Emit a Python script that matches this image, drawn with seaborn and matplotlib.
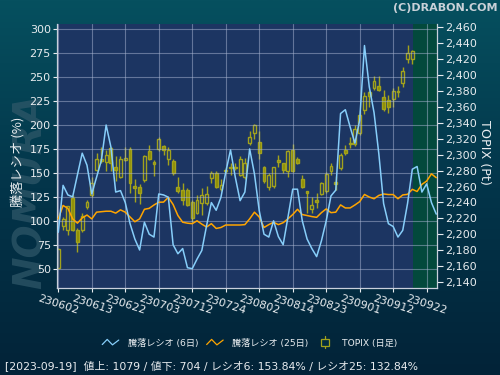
import numpy as np
import pandas as pd
import matplotlib
matplotlib.use("Agg")
import matplotlib.pyplot as plt
import seaborn as sns
from matplotlib.legend_handler import HandlerBase
from matplotlib.lines import Line2D
from matplotlib.patches import Rectangle
from matplotlib.colors import LinearSegmentedColormap

# ---------------- data ----------------
tick_labels = ["230602", "230613", "230622", "230703", "230712", "230724",
               "230802", "230814", "230823", "230901", "230912", "230922"]

ratio6 = [88, 137, 127, 125, 148, 170.6, 158, 128, 145.5, 163,
          200, 177, 130, 131.5, 119, 97, 81, 69.5, 98.5, 86,
          83, 128, 127, 124.6, 75, 65.6, 71, 51, 50, 60,
          69, 95, 119, 111, 124.6, 150.7, 174, 145.5, 121, 130,
          175, 149, 110.6, 86, 83, 100, 83.5, 75, 103.6, 133,
          133, 100, 81, 71, 62.6, 79, 100, 126, 132, 212,
          216, 198, 181, 205, 283, 240, 213, 170, 118, 97,
          94, 83, 90, 118, 153.84, 156.7, 130, 138.6, 119, 107]

ratio25 = [102, 116, 113, 102, 97.5, 103, 106, 102, 109, 109.5,
           110, 110, 108, 111.4, 109, 104, 99, 102, 112, 113,
           116.5, 119.4, 119.5, 124.5, 117, 105.5, 98.5, 97.5, 97, 100,
           96.5, 93.5, 97, 92, 93, 95.6, 95.6, 95.6, 95.6, 96,
           102, 109, 104, 93, 96, 98.5, 96, 98, 102, 106.5,
           112, 106.5, 105.5, 104.4, 103.6, 108.5, 112.4, 108.5, 109, 116.6,
           113.4, 113.4, 116.5, 120, 127.5, 124.8, 123, 126.5, 128, 127.4,
           127.4, 123, 127, 127.6, 132.84, 130.6, 138, 141.5, 149, 145]

topix_open = [2158, 2210, 2205, 2245, 2206, 2205, 2234, 2249, 2281, 2294,
              2291, 2308, 2284, 2272, 2293, 2307, 2261, 2259, 2268, 2304,
              2291, 2307, 2311, 2294, 2292, 2260, 2256, 2256, 2241, 2227,
              2239, 2239, 2271, 2277, 2257, 2281, 2285, 2283, 2275, 2272,
              2315, 2327, 2316, 2284, 2260, 2261, 2293, 2289, 2279, 2306,
              2294, 2269, 2254, 2232, 2243, 2251, 2254, 2279, 2266, 2283,
              2306, 2315, 2313, 2327, 2356, 2378, 2383, 2386, 2372, 2368,
              2370, 2380, 2389, 2419, 2420]
topix_high = [2183, 2222, 2236, 2249, 2208, 2227, 2243, 2272, 2302, 2310,
              2306, 2310, 2298, 2298, 2310, 2310, 2269, 2263, 2300, 2312,
              2293, 2322, 2312, 2310, 2295, 2272, 2264, 2258, 2243, 2249,
              2258, 2261, 2279, 2279, 2269, 2285, 2289, 2289, 2298, 2296,
              2329, 2338, 2329, 2286, 2277, 2285, 2299, 2290, 2306, 2313,
              2297, 2274, 2255, 2247, 2252, 2266, 2278, 2290, 2273, 2302,
              2312, 2322, 2337, 2354, 2378, 2380, 2398, 2398, 2381, 2375,
              2383, 2386, 2410, 2437, 2431]
topix_low = [2157, 2205, 2199, 2204, 2178, 2203, 2232, 2247, 2279, 2290,
             2279, 2279, 2267, 2271, 2292, 2252, 2240, 2238, 2266, 2293,
             2273, 2305, 2299, 2287, 2275, 2252, 2237, 2235, 2216, 2225,
             2224, 2237, 2264, 2258, 2255, 2277, 2275, 2281, 2273, 2270,
             2312, 2320, 2295, 2264, 2256, 2258, 2285, 2277, 2272, 2278,
             2288, 2258, 2227, 2227, 2233, 2249, 2252, 2274, 2256, 2281,
             2299, 2308, 2311, 2325, 2351, 2360, 2381, 2379, 2354, 2352,
             2359, 2372, 2385, 2414, 2413]
topix_close = [2182, 2219, 2235, 2206, 2191, 2223, 2240, 2264, 2294, 2292,
               2299, 2290, 2281, 2294, 2296, 2264, 2258, 2252, 2298, 2295,
               2288, 2320, 2306, 2306, 2277, 2254, 2243, 2237, 2221, 2243,
               2250, 2251, 2277, 2260, 2262, 2279, 2283, 2285, 2294, 2290,
               2322, 2337, 2302, 2267, 2274, 2284, 2291, 2281, 2304, 2280,
               2289, 2260, 2252, 2237, 2240, 2265, 2276, 2286, 2263, 2299,
               2302, 2313, 2332, 2350, 2373, 2373, 2392, 2381, 2357, 2359,
               2380, 2378, 2405, 2427, 2430]

status = "[2023-09-19]  値上: 1079 / 値下: 704 / レシオ6: 153.84% / レシオ25: 132.84%"
legend_labels = ["騰落レシオ (6日)", "騰落レシオ (25日)", "TOPIX (日足)"]

# ---------------- style ----------------
sns.set_style("ticks")
plt.rcParams["font.family"] = ["DejaVu Sans", "Noto Sans CJK JP"]

C_BLUE = "#87cefa"
C_ORANGE = "#ffa500"
C_CANDLE_EDGE = "#a2a21c"
C_CANDLE_FILL = "#8e8e04"
C_PLOT = "#1c3562"
C_GREEN = "#03493c"
C_TEXT = "#e8ecef"
C_GRID = "#aab6d2"

fig = plt.figure(figsize=(5, 3.75), dpi=100)
fig.patch.set_facecolor("#022c40")

# gradient background
bg = fig.add_axes([0, 0, 1, 1], zorder=-10)
grad = np.linspace(0, 1, 256).reshape(-1, 1)
cmap_bg = LinearSegmentedColormap.from_list("bg", ["#06505f", "#03354a", "#022338"])
bg.imshow(grad, aspect="auto", cmap=cmap_bg, extent=[0, 1, 0, 1], origin="upper")
bg.axis("off")

fig.text(31 / 500, 1 - 191 / 375, "NOMURA", rotation=90, fontsize=28,
         fontweight="bold", style="italic", color="#31596a", alpha=0.7,
         ha="center", va="center", zorder=-5)

ax = fig.add_axes([57 / 500, 1 - 288.3 / 375, 380 / 500, 264.3 / 375])
ax2 = ax.twinx()
ax.set_zorder(2)
ax2.set_zorder(1)
ax.patch.set_visible(False)
ax2.patch.set_visible(True)
ax2.patch.set_facecolor(C_PLOT)

n_days = len(topix_open)
idx_c = np.arange(n_days)
idx_l = np.arange(len(ratio6))

df = pd.DataFrame({"day": idx_l, "r6": ratio6, "r25": ratio25})

# future (green) region
ax2.axvspan(n_days - 0.85, len(ratio6) + 1, color=C_GREEN, lw=0, zorder=0)

# candles on TOPIX axis
o = np.array(topix_open, float)
h = np.array(topix_high, float)
l = np.array(topix_low, float)
c = np.array(topix_close, float)
up = c >= o
bottom = np.minimum(o, c)
height = np.maximum(np.abs(c - o), 0.8)
ax2.vlines(idx_c, l, h, color=C_CANDLE_EDGE, lw=1, zorder=2)
ax2.bar(idx_c[up], height[up], bottom=bottom[up], width=0.6,
        facecolor=C_PLOT, edgecolor=C_CANDLE_EDGE, lw=1, zorder=3)
ax2.bar(idx_c[~up], height[~up], bottom=bottom[~up], width=0.6,
        facecolor=C_CANDLE_FILL, edgecolor=C_CANDLE_EDGE, lw=1, zorder=3)

# ratio lines
sns.lineplot(data=df, x="day", y="r25", ax=ax, color=C_ORANGE, lw=1.1, zorder=4)
sns.lineplot(data=df, x="day", y="r6", ax=ax, color=C_BLUE, lw=1.1, zorder=5)

# axes limits and ticks
ax.set_xlim(-0.27, 79.16)
ax.set_ylim(29.5, 305.5)
ax2.set_ylim(2132.6, 2463.4)

ax.set_yticks(list(range(50, 301, 25)))
ax.set_xticks(list(range(0, 7 * len(tick_labels), 7)))
ax.set_xticklabels(tick_labels, rotation=-18, ha="center", va="top")
right_ticks = list(range(2140, 2461, 20))
ax2.set_yticks(right_ticks)
ax2.set_yticklabels([f"{v:,}" for v in right_ticks])

ax.grid(True, color=C_GRID, lw=0.8, alpha=0.5)
ax2.grid(False)

ax.tick_params(axis="both", colors=C_TEXT, labelsize=8, length=3, width=0.8,
               direction="out", pad=1.5)
ax.tick_params(axis="x", pad=1)
ax2.tick_params(axis="y", colors=C_TEXT, labelsize=8, length=4, width=0.8,
                direction="out", pad=1.5)

for s in ["top", "right"]:
    ax.spines[s].set_visible(False)
for s in ["top", "left", "bottom"]:
    ax2.spines[s].set_visible(False)
for sp in [ax.spines["left"], ax.spines["bottom"], ax2.spines["right"]]:
    sp.set_color("#c9d0dc")
    sp.set_linewidth(0.9)

ax.set_xlabel("")
ax.set_ylabel("騰落レシオ (%)", color=C_TEXT, fontsize=9.5, va="center",
              family=["Noto Sans CJK JP", "DejaVu Sans"])
ax.yaxis.set_label_coords(-0.103, 0.477)
ax2.set_ylabel("TOPIX (Pt)", color=C_TEXT, fontsize=9.2, rotation=270,
               va="center")
ax2.yaxis.set_label_coords(1.126, 0.513)

# copyright
fig.text(497 / 500, 1 - 8 / 375, "(C)DRABON.COM", color="#c9d1d8",
         fontsize=8, fontweight="bold", ha="right", va="center")


# legend with custom handles
class ZigZagHandler(HandlerBase):
    def create_artists(self, legend, orig_handle, xdescent, ydescent,
                       width, height, fontsize, trans):
        xs = np.array([0.0, 0.3, 0.62, 1.0]) * width - xdescent
        ys = np.array([0.15, 0.95, 0.1, 0.85]) * height - ydescent
        ln = Line2D(xs, ys, color=orig_handle.get_color(), lw=0.9,
                    transform=trans)
        return [ln]


class CandleHandler(HandlerBase):
    def create_artists(self, legend, orig_handle, xdescent, ydescent,
                       width, height, fontsize, trans):
        cx = width / 2 - xdescent
        wick = Line2D([cx, cx], [-0.45 * height - ydescent, 1.45 * height - ydescent],
                      color=C_CANDLE_EDGE, lw=0.9, transform=trans)
        bw = 0.45 * width
        rect = Rectangle((cx - bw / 2, -0.05 * height - ydescent), bw, 1.1 * height,
                         facecolor="#022c40", edgecolor=C_CANDLE_EDGE, lw=0.9,
                         transform=trans)
        return [wick, rect]


h_blue = Line2D([], [], color=C_BLUE)
h_orange = Line2D([], [], color=C_ORANGE)
h_candle = Rectangle((0, 0), 1, 1)
leg = fig.legend([h_blue, h_orange, h_candle], legend_labels,
                 handler_map={h_blue: ZigZagHandler(), h_orange: ZigZagHandler(),
                              h_candle: CandleHandler()},
                 loc="center", bbox_to_anchor=(250 / 500, 1 - 343 / 375),
                 ncol=3, frameon=False, fontsize=6.6, handlelength=1.8,
                 handletextpad=1.0, columnspacing=0.9, labelcolor=C_TEXT)
for t in leg.get_texts():
    t.set_family(["DejaVu Sans", "Noto Sans CJK JP"])

fig.text(5 / 500, 1 - 366 / 375, status, color=C_TEXT, fontsize=7.8,
         ha="left", va="center")

fig.savefig("out.png", dpi=100, facecolor=fig.get_facecolor())
